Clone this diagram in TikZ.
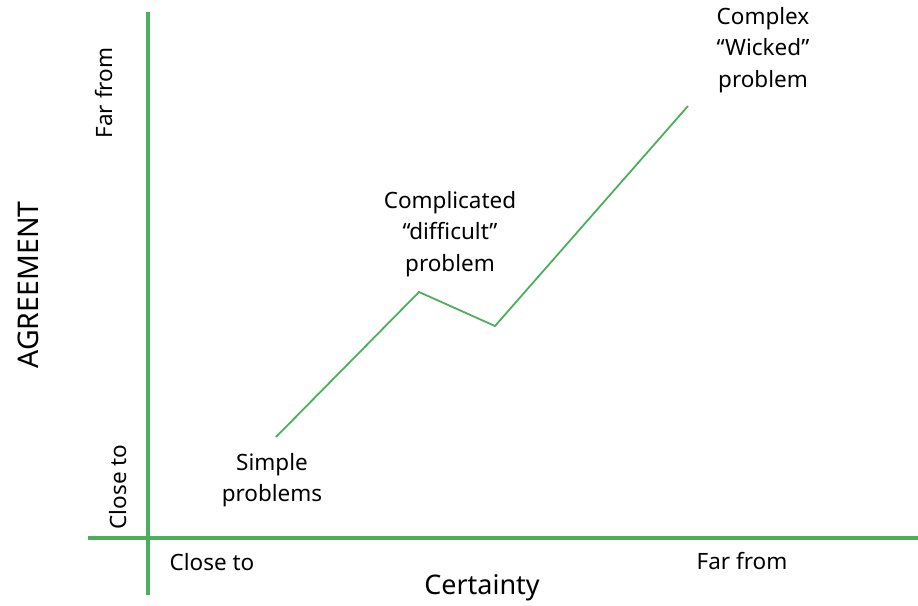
\documentclass[tikz,border=0pt]{standalone}
\usepackage{fontspec}
\setmainfont{Noto Sans}
\definecolor{axisgreen}{RGB}{76,175,90}
\begin{document}
\begin{tikzpicture}[x=1pt,y=-1pt,
  axis/.style={draw=axisgreen,line width=4pt},
  curve/.style={draw=axisgreen,line width=1.8pt,line join=miter},
  lab/.style={font=\fontsize{22.5}{31.5}\selectfont,align=center,inner sep=0pt,text=black},
  big/.style={font=\fontsize{27}{32}\selectfont,inner sep=0pt,text=black}]
\useasboundingbox (0,0) rectangle (918,605);
% axes
\coordinate (vtop) at (148,12);
\coordinate (vbot) at (148,595);
\coordinate (hl) at (88,538);
\coordinate (hr) at (918,538);
\draw[axis] (vtop) -- (vbot);
\draw[axis] (hl) -- (hr);
% curve
\coordinate (p1) at (276,437);
\coordinate (p2) at (419,292);
\coordinate (p3) at (495,326);
\coordinate (p4) at (688,106);
\draw[curve] (p1) -- (p2) -- (p3) -- (p4);
% labels
\node[lab] (simple) at (272,480) {Simple\\problems};
\node[lab] (compl) at (450,234) {Complicated\\“difficult”\\problem};
\node[lab] (wicked) at (763,50) {Complex\\“Wicked”\\problem};
\node[lab] (xclose) at (212,562) {Close to};
\node[lab] (xfar) at (742,561) {Far from};
\node[big] (cert) at (482,588) {Certainty};
\node[big,font=\fontsize{28.5}{32}\selectfont,rotate=90] (agree) at (28,285) {AGREEMENT};
\node[lab,rotate=90] (yfar) at (104,93) {Far from};
\node[lab,rotate=90] (yclose) at (118,487) {Close to};
\end{tikzpicture}
\end{document}
